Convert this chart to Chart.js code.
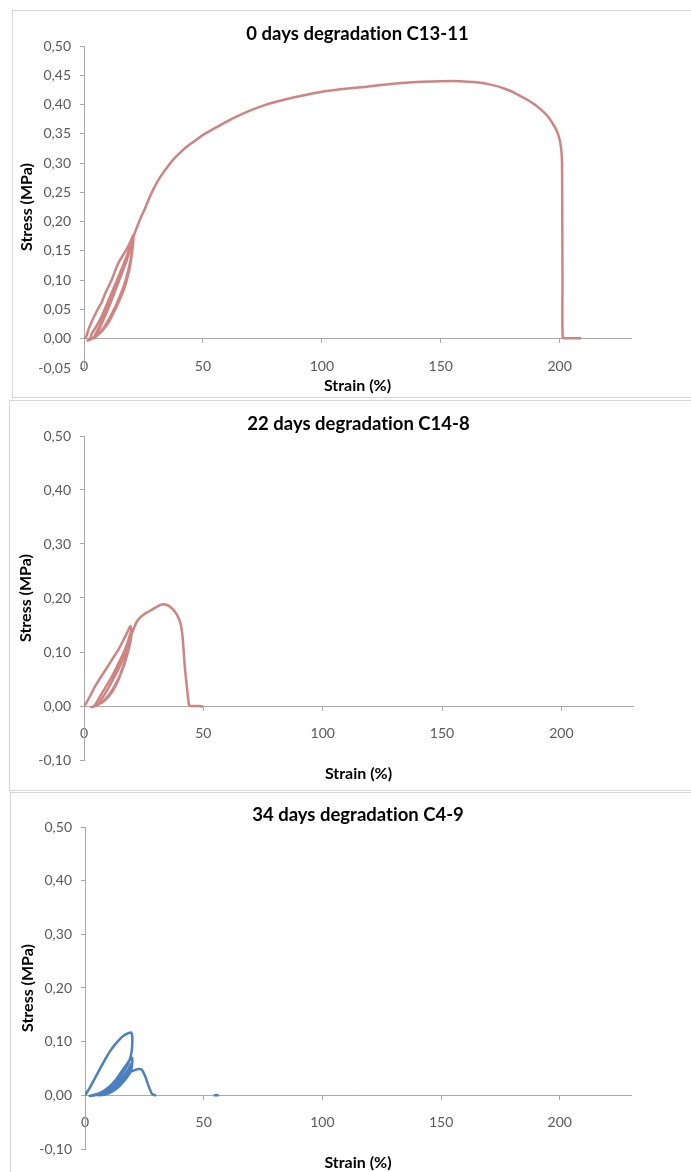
<!DOCTYPE html>
<html>
<head>
<meta charset="utf-8">
<title>Stress-strain curves after degradation</title>
<script src="https://cdn.jsdelivr.net/npm/chart.js"></script>
<style>
  body { margin: 0; width: 691px; height: 1172px; overflow: hidden; background: #fff; position: relative; }
  .panel { position: absolute; border: 1px solid #d6d6d6; background: #fff; }
  .panel canvas { display: block; }
</style>
</head>
<body>
<div class="panel" style="left:12px;top:10px;width:690px;height:386px"><canvas id="c0" width="690" height="386"></canvas></div>
<div class="panel" style="left:9px;top:400px;width:690px;height:389px"><canvas id="c22" width="690" height="389"></canvas></div>
<div class="panel" style="left:10px;top:792px;width:690px;height:390px"><canvas id="c34" width="690" height="390"></canvas></div>
<script>
// axis ticks
const xTicks = [0, 50, 100, 150, 200];
const yTicks0 = [-0.05, 0, 0.05, 0.10, 0.15, 0.20, 0.25, 0.30, 0.35, 0.40, 0.45, 0.50];
const yTicksLate = [-0.10, 0, 0.10, 0.20, 0.30, 0.40, 0.50];

// 0 days, sample C13-11: strain (%) / stress (MPa)
const strain0 = [
  0, 1, 1.8, 3, 4.5, 6, 7.4, 9, 10.5, 11.6, 13, 14.4, 16, 17.5, 18.6, 19.8, 20.7,
  20.8, 20.3, 19.3, 18.3, 17.2, 15.8, 14.4, 12.3, 10.2, 8, 6, 4, 2.5, 1.5,
  2.5, 3.2, 5, 7.4, 9.5, 11.6, 13.5, 15.1, 16.6, 17.9, 19, 20, 20.6,
  20.6, 19.9, 19, 17.8, 16.4, 14.8, 13, 11, 9, 7, 5, 3.2,
  4, 5.5, 7.8, 10, 12, 14, 15.6, 17, 18.3, 19.4, 20.3, 20.8,
  20.5, 19.6, 18.5, 17.2, 15.6, 13.9, 12, 10, 8, 6, 4.2,
  5, 6.8, 9, 11.2, 13.3, 15.2, 16.8, 18.2, 19.4, 20.4, 21.3, 22.5, 24, 25.5, 27.5,
  30, 32.5, 35, 37.5, 41, 44.5, 48, 50, 56, 60, 65, 70, 76, 82, 88, 95, 102, 110,
  118, 126, 134, 142, 150, 158, 165, 171, 177, 182, 186, 189.5, 192.5, 195, 197,
  198.8, 200, 200.7, 201, 201.1, 201.2, 201.3, 203, 206, 209
];
const stress0 = [
  0, 0.004, 0.015, 0.027, 0.04, 0.052, 0.062, 0.078, 0.091, 0.1, 0.115, 0.129, 0.14, 0.15, 0.158, 0.168, 0.177,
  0.172, 0.15, 0.123, 0.105, 0.089, 0.074, 0.061, 0.043, 0.027, 0.015, 0.007, 0.002, 0, -0.003,
  -0.002, 0.008, 0.02, 0.038, 0.058, 0.078, 0.096, 0.112, 0.127, 0.14, 0.153, 0.167, 0.175,
  0.165, 0.142, 0.122, 0.103, 0.085, 0.068, 0.052, 0.036, 0.022, 0.011, 0.004, 0,
  0.001, 0.013, 0.032, 0.052, 0.072, 0.092, 0.108, 0.124, 0.139, 0.154, 0.168, 0.176,
  0.158, 0.135, 0.115, 0.096, 0.078, 0.061, 0.045, 0.03, 0.017, 0.007, 0.001,
  0.004, 0.02, 0.04, 0.062, 0.084, 0.104, 0.121, 0.137, 0.153, 0.168, 0.18, 0.193, 0.208, 0.221, 0.241,
  0.262, 0.279, 0.293, 0.306, 0.32, 0.332, 0.342, 0.348, 0.362, 0.371, 0.381, 0.39, 0.399, 0.406, 0.412, 0.418, 0.423, 0.427,
  0.43, 0.434, 0.437, 0.439, 0.44, 0.44, 0.438, 0.434, 0.427, 0.418, 0.409, 0.4, 0.39, 0.38, 0.368,
  0.355, 0.34, 0.322, 0.3, 0.2, 0.1, 0.002, 0.001, 0.001, 0.001
];

// 22 days, sample C14-8
const strain22 = [
  0, 1, 2.5, 4.6, 7.4, 10.2, 12.3, 14.4, 16.5, 18.2, 19.4,
  19.8, 19.3, 18.3, 17.2, 15.8, 14.4, 12.3, 10.2, 8, 6, 4.6, 3,
  4, 5.5, 7.4, 9.5, 11.6, 13.7, 15.8, 17.3, 18.6, 19.6, 20,
  19.8, 19, 17.9, 16.5, 14.9, 13, 11, 9, 7, 5,
  6, 8, 10.2, 12.3, 14.4, 16.3, 17.8, 19, 19.8, 20.3, 21, 22.1, 23.8, 25.6, 27.5,
  29.1, 31, 32.6, 34, 35.4, 36.8, 38.2, 39.4, 40.3, 40.9, 41.3, 41.7, 42, 42.5,
  43.1, 43.6, 44.1, 46, 48, 50
];
const stress22 = [
  0, 0.006, 0.018, 0.036, 0.056, 0.075, 0.09, 0.104, 0.122, 0.137, 0.148,
  0.14, 0.122, 0.104, 0.085, 0.066, 0.048, 0.03, 0.017, 0.008, 0.003, 0, -0.002,
  -0.001, 0.008, 0.023, 0.038, 0.054, 0.072, 0.091, 0.106, 0.122, 0.137, 0.142,
  0.128, 0.11, 0.092, 0.072, 0.055, 0.038, 0.024, 0.013, 0.005, 0.001,
  0.003, 0.017, 0.033, 0.05, 0.068, 0.088, 0.106, 0.122, 0.135, 0.137, 0.145, 0.156, 0.165, 0.171, 0.176,
  0.18, 0.185, 0.188, 0.188, 0.186, 0.181, 0.174, 0.165, 0.155, 0.142, 0.128, 0.105, 0.085, 0.06,
  0.036, 0.015, 0.001, 0, 0, -0.001
];

// 34 days, sample C4-9 (null splits the short trace near 55 %)
const strain34 = [
  0, 2, 4.2, 6.5, 8.5, 10.5, 12.7, 14.5, 16.2, 18.3, 19.4,
  19.9, 19.9, 19.6, 18.8, 17.2, 15, 12.5, 10, 7, 4, 2,
  4, 7, 10, 13, 15.5, 17.6, 19.2, 19.8,
  19.9, 19.3, 17.6, 15, 12, 9, 6,
  8, 11, 14, 16.5, 18.5, 19.6,
  19.6, 18.5, 16.5, 14, 11, 8,
  10, 13, 16, 18.5, 20.4, 22.5, 23.9, 25.4, 26.8, 28.2, 29.6, 30,
  40, 54.2, 56.3
];
const stress34 = [
  0, 0.014, 0.032, 0.051, 0.067, 0.082, 0.095, 0.104, 0.111, 0.116, 0.117,
  0.11, 0.095, 0.08, 0.066, 0.05, 0.035, 0.021, 0.01, 0.003, 0, -0.001,
  0.001, 0.006, 0.015, 0.029, 0.045, 0.058, 0.068, 0.07,
  0.06, 0.045, 0.033, 0.02, 0.009, 0.003, 0,
  0.003, 0.01, 0.022, 0.036, 0.05, 0.06,
  0.052, 0.04, 0.027, 0.015, 0.006, 0.001,
  0.005, 0.014, 0.028, 0.042, 0.046, 0.049, 0.048, 0.035, 0.017, 0.003, 0, 0,
  null, 0, 0
];

const AXIS = '#a9a9a9';
const TICK_TEXT = '#595959';
const FONT = 'Lato, "Open Sans", sans-serif';

// keep "ti" etc. as separate glyphs in the canvas text
const noLigatures = {
  id: 'noLigatures',
  beforeDraw: chart => { chart.ctx.textRendering = 'optimizeSpeed'; }
};

function points(xs, ys) {
  return xs.map((x, i) => ({ x: x, y: ys[i] }));
}

function fmt(v) {
  return v.toFixed(2).replace('.', ',');
}

function buildChart(id, o) {
  const area = o.area;
  return new Chart(document.getElementById(id), {
    type: 'scatter',
    plugins: [noLigatures],
    data: {
      datasets: [{
        data: points(o.strain, o.stress),
        showLine: true,
        borderColor: o.color,
        borderWidth: 2.5,
        pointRadius: 0,
        tension: 0.2,
        spanGaps: false
      }]
    },
    options: {
      responsive: false,
      animation: false,
      events: [],
      layout: { padding: { left: 0, top: 0, bottom: 0, right: area.pad } },
      plugins: {
        legend: { display: false },
        tooltip: { enabled: false },
        // titles span the plot width only, so they sit centred over it
        title: {
          display: true,
          fullSize: false,
          text: o.title,
          color: '#000',
          font: { family: FONT, size: 18.5, weight: 'bold', lineHeight: 1.2 },
          padding: { top: o.titlePad[0], bottom: o.titlePad[1] }
        },
        subtitle: {
          display: true,
          fullSize: false,
          position: 'bottom',
          text: 'Strain (%)',
          color: '#000',
          font: { family: FONT, size: 16, weight: 'bold', lineHeight: 1.2 },
          padding: { top: o.xTitlePad[0], bottom: o.xTitlePad[1] }
        }
      },
      scales: {
        x: {
          type: 'linear',
          min: 0,
          max: 230,
          position: { y: 0 },
          afterBuildTicks: s => { s.ticks = xTicks.map(v => ({ value: v })); },
          grid: { drawOnChartArea: false, drawTicks: true, tickLength: 4, color: AXIS },
          border: { color: AXIS, width: 1 },
          ticks: {
            color: TICK_TEXT,
            font: { family: FONT, size: 14 },
            padding: 15,
            maxRotation: 0,
            autoSkip: false
          }
        },
        y: {
          type: 'linear',
          min: o.yTicks[0],
          max: 0.5,
          afterBuildTicks: s => { s.ticks = o.yTicks.map(v => ({ value: v })); },
          afterFit: s => { s.width = area.left; },
          grid: { drawOnChartArea: false, drawTicks: true, tickLength: 4, color: AXIS },
          border: { color: AXIS, width: 1 },
          ticks: {
            color: TICK_TEXT,
            font: { family: FONT, size: 14 },
            padding: 9,
            autoSkip: false,
            callback: v => fmt(v)
          },
          title: {
            display: true,
            text: 'Stress (MPa)',
            color: '#000',
            font: { family: FONT, size: 16, weight: 'bold', lineHeight: 1.2 },
            padding: { top: o.yTitlePad, bottom: 0 }
          }
        }
      }
    }
  });
}

buildChart('c0', {
  title: '0 days degradation C13-11',
  strain: strain0, stress: stress0, yTicks: yTicks0,
  color: '#cf8481',
  area: { left: 71, pad: 72 },
  titlePad: [11.9, 0.9], xTitlePad: [8.4, 1.4], yTitlePad: 4.1
});

buildChart('c22', {
  title: '22 days degradation C14-8',
  strain: strain22, stress: stress22, yTicks: yTicksLate,
  color: '#cf8481',
  area: { left: 74, pad: 67 },
  titlePad: [11.9, 0.9], xTitlePad: [4.4, 6.4], yTitlePad: 6.4
});

buildChart('c34', {
  title: '34 days degradation C4-9',
  strain: strain34, stress: stress34, yTicks: yTicksLate,
  color: '#4a7fc0',
  area: { left: 74, pad: 70 },
  titlePad: [10.9, 0.9], xTitlePad: [4.4, 10.4], yTitlePad: 7.1
});
</script>
</body>
</html>
